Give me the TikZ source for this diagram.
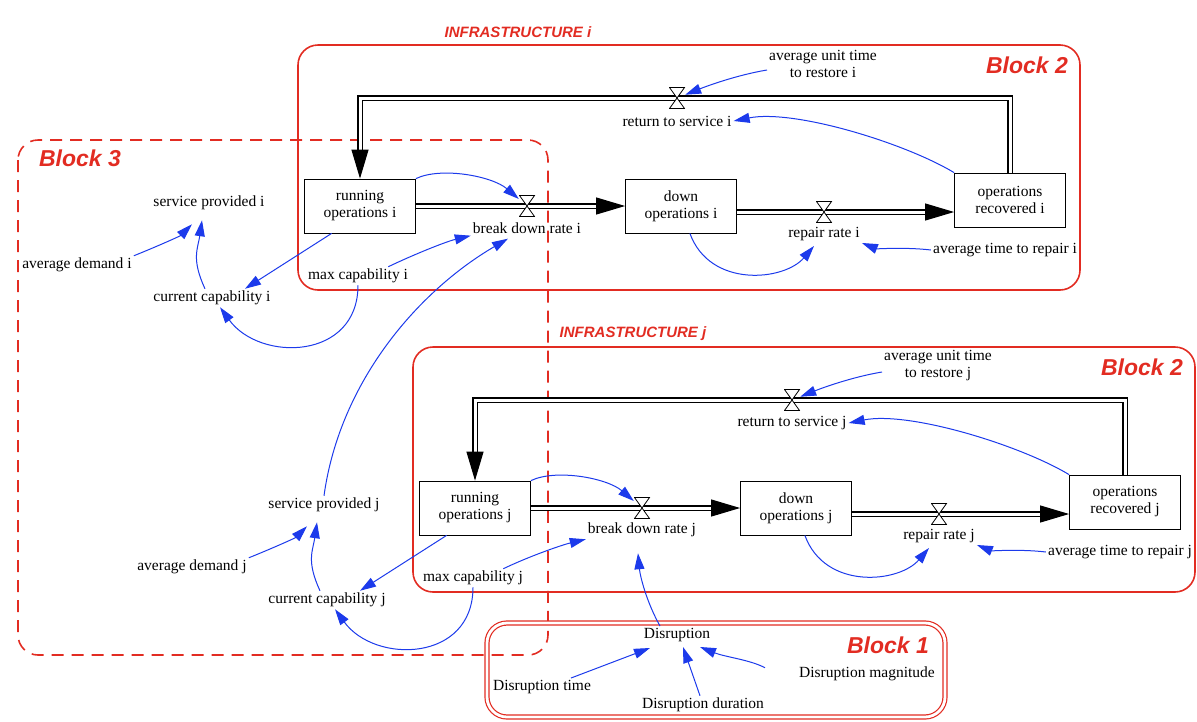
\documentclass[tikz,border=0pt]{standalone}
\usepackage{fontspec}
\setmainfont{Liberation Serif}
\newfontfamily\blockfont{Liberation Sans}
\usetikzlibrary{arrows.meta}
\definecolor{linkblue}{RGB}{28,58,235}
\definecolor{blockred}{RGB}{226,44,34}
\newcommand{\vensim}{\fontsize{15.5}{17}\selectfont}
\tikzset{
	stock/.style={
		draw,
		line width=0.8pt,
		minimum width=111pt,
		minimum height=54pt,
		align=center,
		font=\vensim
	},
	aux/.style={
		align=center,
		inner sep=2pt,
		font=\vensim
	},
	valve/.style={
		minimum width=16pt,
		minimum height=22pt,
		inner sep=0pt,
		path picture={
			\filldraw [fill=white, line width=0.8pt]
				([xshift=.5pt,yshift=-.5pt]path picture bounding box.north west) --
				([xshift=-.5pt,yshift=-.5pt]path picture bounding box.north east) --
				([xshift=.5pt,yshift=.5pt]path picture bounding box.south west) --
				([xshift=-.5pt,yshift=.5pt]path picture bounding box.south east) -- cycle;
		}
	},
	pipe/.style={
		draw=black,
		line width=1.1pt,
		double=white,
		double distance=3pt
	},
	flow/.style={
		pipe,
		-{Triangle[length=29pt,width=17pt]}
	},
	link/.style={
		draw=linkblue,
		line width=1pt,
		-{Triangle[length=16pt,width=10pt]}
	},
	block/.style={
		draw=blockred,
		line width=1.6pt,
		rounded corners=20pt
	},
	blockdash/.style={
		dash pattern=on 12pt off 8pt
	},
	blocklabel/.style={
		text=blockred,
		font=\blockfont\bfseries\itshape\fontsize{23}{25}\selectfont
	},
	infra/.style={
		text=blockred,
		font=\blockfont\bfseries\itshape\fontsize{15}{17}\selectfont
	},
}
\begin{document}
\begin{tikzpicture}[x=1pt, y=-1pt]
\useasboundingbox (0,0) rectangle (1197,721);

% Block 3 and Block 1
\draw [block, blockdash] (18,140) rectangle (548,655);
\node [blocklabel] (b3) at (80,158) {Block 3};
\draw [block, double=white, double distance=2.8pt, line width=1.2pt] (487,623) rectangle (945,717);
\node [blocklabel] (b1) at (888,645) {Block 1};

% the two infrastructures
\foreach \s/\dx/\dy in {i/0/0, j/115/302}
{
\begin{scope}[shift={(\dx,\dy)}]
	\draw [block] (298,45) rectangle (1080,290);
	\node [infra] (infra-\s) at (518,32) {INFRASTRUCTURE \s};
	\node [blocklabel] (b2-\s) at (1027,65) {Block 2};

	\node [stock] (run-\s) at (360,206) {running\\operations \s};
	\node [stock] (down-\s) at (681,206) {down\\operations \s};
	\node [stock] (rec-\s) at (1010,200) {operations\\recovered \s};

	% pipes first, valves on top
	\coordinate (brk-at-\s) at (527,206);
	\coordinate (rep-at-\s) at (824,212);
	\coordinate (ret-at-\s) at (677,98);
	\draw [flow] (run-\s.east |- brk-at-\s) -- (down-\s.west |- brk-at-\s);
	\draw [flow] (down-\s.east |- rep-at-\s) -- (rec-\s.west |- rep-at-\s);
	\draw [flow] (rec-\s.north) |- (ret-at-\s) -| (run-\s.north);

	\node [valve] (brk-\s) at (brk-at-\s) {};
	\node [valve] (rep-\s) at (rep-at-\s) {};
	\node [valve] (ret-\s) at (ret-at-\s) {};

	\node [aux] (brk-lbl-\s) at (527,228) {break down rate \s};
	\node [aux] (rep-lbl-\s) at (824,234) {repair rate \s};
	\node [aux] (ret-lbl-\s) at (677,121) {return to service \s};
	\node [aux] (aut-\s) at (823,64) {average unit time\\to restore \s};
	\node [aux] (atr-\s) at (1005,250) {average time to repair \s};
	\node [aux] (maxc-\s) at (358,276) {max capability \s};
	\node [aux] (curc-\s) at (212,298) {current capability \s};
	\node [aux] (serv-\s) at (209,203) {service provided \s};
	\node [aux] (dem-\s) at (77,265) {average demand \s};

	\draw [link] (run-\s.north east) .. controls +(25,-12) and +(-35,-30) .. (brk-\s);
	\draw [link] (maxc-\s.17) .. controls +(25,-12) and +(-25,6) .. (brk-lbl-\s.south west);
	\draw [link] (down-\s.288) .. controls +(20,55) and +(-30,35) .. ([xshift=-10pt,yshift=-3pt]rep-lbl-\s.south);
	\draw [link] (atr-\s.west) .. controls +(-25,-3) and +(15,6) .. (rep-lbl-\s.south east);
	\draw [link] ([yshift=-6pt]aut-\s.west) .. controls +(-30,5) and +(30,-12) .. (ret-\s);
	\draw [link] (rec-\s.north west) .. controls +(-50,-30) and +(60,-12) .. (ret-lbl-\s.east);
	\draw [link] (run-\s.224) -- ([xshift=33pt]curc-\s.north);
	\draw [link] (dem-\s.north east) .. controls +(20,-8) and +(-12,12) .. ([xshift=-17pt,yshift=-12pt]serv-\s.south);
	\draw [link] ([xshift=-7pt]curc-\s.north) .. controls +(-14,-30) and +(-4,28) .. ([xshift=-7pt,yshift=-8pt]serv-\s.south);
	\draw [link] (maxc-\s.south) .. controls +(0,75) and +(40,55) .. ([xshift=8pt]curc-\s.south);
\end{scope}
}

% Block 1 contents
\node [aux] (dis) at (677,635) {Disruption};
\node [aux] (dtime) at (542,687) {Disruption time};
\node [aux] (ddur) at (703,705) {Disruption duration};
\node [aux] (dmag) at (867,674) {Disruption magnitude};

\draw [link] ([xshift=29pt]dtime.north) -- ([xshift=-27pt,yshift=-4pt]dis.south);
\draw [link] ([xshift=-3pt]ddur.north) -- ([xshift=6pt,yshift=-3pt]dis.south);
\draw [link] ([xshift=-32pt,yshift=-3pt]dmag.north west) .. controls +(-15,-8) and +(25,10) .. ([xshift=23pt,yshift=-3pt]dis.south);

% links between blocks
\draw [link] (serv-j.north) .. controls (340,380) and (420,290) .. ([xshift=-19pt,yshift=-3pt]brk-lbl-i.south);
\draw [link] ([xshift=-17pt]dis.north) .. controls +(-14,-25) and +(2,22) .. ([xshift=-4pt,yshift=-14pt]brk-lbl-j.south);

\end{tikzpicture}
\end{document}
